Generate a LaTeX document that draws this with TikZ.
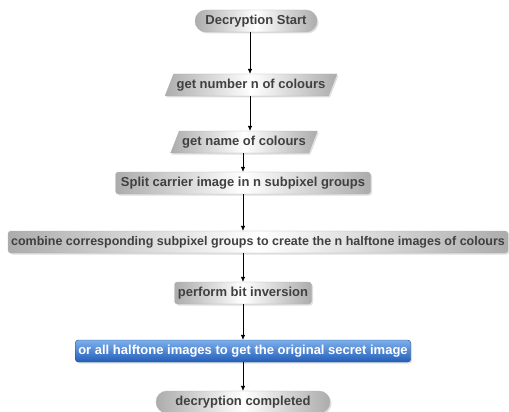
\documentclass[tikz,border=0pt]{standalone}
\usepackage{fontspec}
\setmainfont{Liberation Sans}
\usetikzlibrary{arrows.meta, shapes.geometric, shapes.misc, shadows}

\definecolor{blueTop}{RGB}{125,175,235}
\definecolor{blueBot}{RGB}{35,95,185}

\tikzset{
  flow/.style={text=black!75, font=\fontsize{13}{15}\selectfont\bfseries, inner xsep=3pt, inner ysep=2pt,
    minimum height=22pt, drop shadow={opacity=0.25, shadow xshift=1.5pt, shadow yshift=-1.5pt}},
  greybox/.style={flow, draw=gray!60, left color=gray!65, right color=gray!65, middle color=white, rounded corners=3pt},
  terminal/.style={greybox, rounded rectangle, rounded corners=0pt},
  inputbox/.style={greybox, trapezium, trapezium left angle=62, trapezium right angle=118, rounded corners=0pt, trapezium stretches=true},
  bluebox/.style={flow, draw=blueBot!80!black, top color=blueTop, bottom color=blueBot, text=white, rounded corners=3pt},
  arrow/.style={-{Latex[length=5pt,width=4.5pt]}, semithick}
}

\begin{document}
\begin{tikzpicture}[x=1pt, y=-1pt]
  \useasboundingbox (0,0) rectangle (509,412);

  \node[terminal, minimum width=128pt] (start) at (256,21) {Decryption Start};
  \node[inputbox, minimum width=168pt] (number) at (251,85) {get number n of colours};
  \node[inputbox, minimum width=138pt] (name) at (244,142) {get name of colours};
  \node[greybox, minimum width=255pt] (split) at (243,183) {Split carrier image in n subpixel groups};
  \node[greybox, minimum width=500pt, font=\fontsize{12.5}{14}\selectfont\bfseries] (combine) at (258,242)
    {combine corresponding subpixel groups to create the n halftone images of colours};
  \node[greybox, minimum width=137pt] (invert) at (243,293) {perform bit inversion};
  \node[bluebox, minimum width=332pt] (orall) at (243,351) {or all halftone images to get the original secret image};
  \node[terminal, minimum width=180pt] (done) at (243,402) {decryption completed};

  \draw[arrow] (start.south -| 250,0) -- (number.north -| 250,0);
  \draw[arrow] (number.south -| 250,0) -- (name.north -| 250,0);
  \draw[arrow] (name.south -| 243,0) -- (split.north);
  \draw[arrow] (split) -- (combine.north -| split);
  \draw[arrow] (combine.south -| split) -- (invert.north);
  \draw[arrow] (invert) -- (orall);
  \draw[arrow] (orall) -- (done);
\end{tikzpicture}
\end{document}
